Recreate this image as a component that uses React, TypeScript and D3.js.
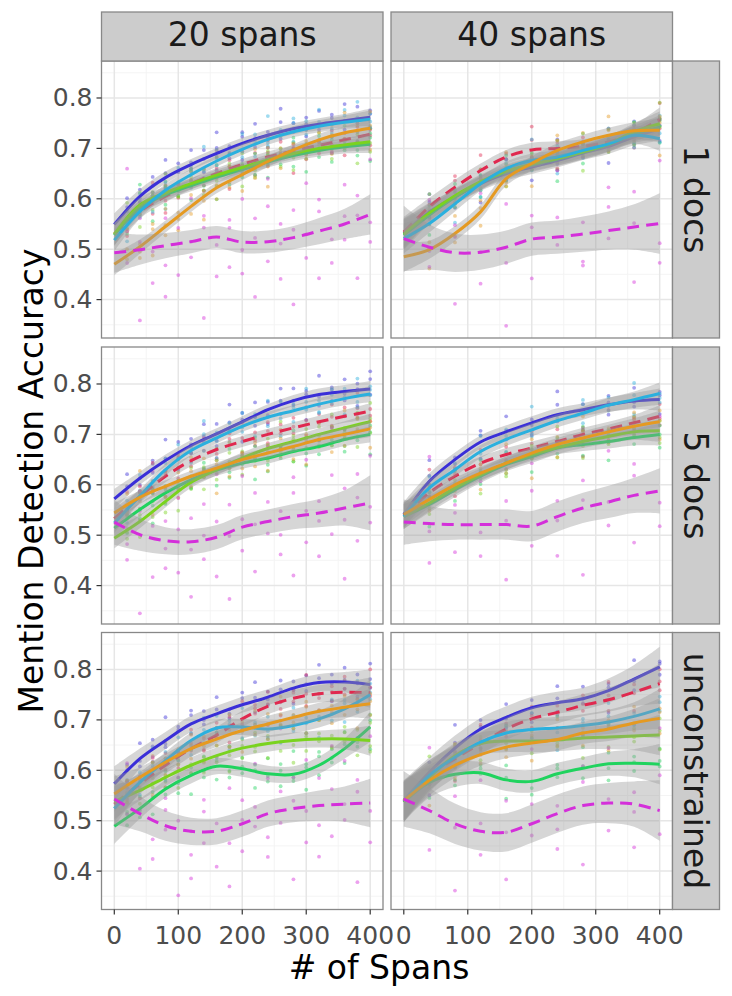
import React from 'react';
import * as d3 from 'd3';

// ---------------- data ----------------
const X_KNOTS = [0, 40, 80, 120, 160, 200, 240, 280, 320, 360, 400];
const COL_LABELS = ['20 spans', '40 spans'];
const ROW_LABELS = ['1 docs', '5 docs', 'unconstrained'];
const POINT_STEP = [20, 40];
const X_TICKS = [0, 100, 200, 300, 400];
const X_MINOR = [50, 150, 250, 350];
const Y_TICKS = [0.4, 0.5, 0.6, 0.7, 0.8];
const Y_MINOR = [0.35, 0.45, 0.55, 0.65, 0.75, 0.85];

const SERIES_KEYS = ['blue', 'red', 'green', 'lime', 'cyan', 'orange', 'magenta'];
const SERIES_COLORS = ['#3a2fd8', '#e0294f', '#20d35e', '#7ad31f', '#2bb0de', '#e59a22', '#d42fda'];
const SERIES_DASHED = [false, true, false, false, false, false, true];

// Panel A: 20 spans / 1 docs
const A_BLUE = [0.549, 0.605, 0.642, 0.668, 0.690, 0.710, 0.726, 0.739, 0.748, 0.755, 0.762];
const A_CYAN = [0.518, 0.575, 0.617, 0.648, 0.675, 0.698, 0.718, 0.733, 0.744, 0.752, 0.758];
const A_RED = [0.530, 0.575, 0.605, 0.630, 0.650, 0.668, 0.683, 0.695, 0.706, 0.717, 0.728];
const A_ORANGE = [0.470, 0.505, 0.545, 0.585, 0.622, 0.648, 0.674, 0.697, 0.717, 0.731, 0.740];
const A_LIME = [0.530, 0.588, 0.612, 0.630, 0.647, 0.662, 0.677, 0.690, 0.700, 0.707, 0.713];
const A_GREEN = [0.528, 0.582, 0.608, 0.626, 0.643, 0.658, 0.673, 0.686, 0.696, 0.703, 0.708];
const A_MAGENTA = [0.493, 0.499, 0.507, 0.515, 0.524, 0.514, 0.515, 0.523, 0.536, 0.550, 0.569];
const A_BAND = [0.022, 0.014, 0.012, 0.011, 0.011, 0.011, 0.011, 0.011, 0.012, 0.013, 0.017];
const A_BAND_M = [0.040, 0.030, 0.025, 0.023, 0.022, 0.022, 0.022, 0.023, 0.026, 0.030, 0.040];

// Panel B: 40 spans / 1 docs
const B_BLUE = [0.531, 0.574, 0.604, 0.630, 0.650, 0.663, 0.676, 0.691, 0.704, 0.723, 0.739];
const B_CYAN = [0.521, 0.551, 0.590, 0.630, 0.660, 0.676, 0.683, 0.696, 0.709, 0.726, 0.719];
const B_RED = [0.534, 0.584, 0.623, 0.656, 0.683, 0.697, 0.700, 0.704, 0.713, 0.730, 0.757];
const B_ORANGE = [0.485, 0.499, 0.531, 0.574, 0.640, 0.670, 0.696, 0.713, 0.726, 0.735, 0.736];
const B_LIME = [0.530, 0.572, 0.606, 0.634, 0.655, 0.669, 0.680, 0.693, 0.709, 0.733, 0.749];
const B_GREEN = [0.528, 0.568, 0.603, 0.632, 0.653, 0.667, 0.679, 0.692, 0.708, 0.728, 0.742];
const B_MAGENTA = [0.521, 0.504, 0.493, 0.494, 0.504, 0.520, 0.524, 0.530, 0.537, 0.544, 0.551];
const B_BAND = [0.030, 0.018, 0.015, 0.014, 0.014, 0.014, 0.014, 0.014, 0.015, 0.017, 0.024];
const B_BAND_M = [0.065, 0.045, 0.038, 0.035, 0.033, 0.033, 0.033, 0.035, 0.038, 0.045, 0.060];

// Panel C: 20 spans / 5 docs
const C_BLUE = [0.572, 0.613, 0.648, 0.678, 0.701, 0.725, 0.749, 0.767, 0.779, 0.785, 0.790];
const C_CYAN = [0.524, 0.578, 0.630, 0.668, 0.693, 0.716, 0.734, 0.747, 0.760, 0.771, 0.780];
const C_RED = [0.533, 0.577, 0.617, 0.648, 0.670, 0.686, 0.700, 0.713, 0.725, 0.736, 0.746];
const C_ORANGE = [0.544, 0.575, 0.597, 0.617, 0.633, 0.650, 0.663, 0.676, 0.690, 0.700, 0.711];
const C_LIME = [0.494, 0.527, 0.567, 0.605, 0.630, 0.653, 0.672, 0.686, 0.700, 0.713, 0.725];
const C_GREEN = [0.514, 0.551, 0.584, 0.610, 0.629, 0.643, 0.653, 0.666, 0.676, 0.690, 0.700];
const C_MAGENTA = [0.526, 0.501, 0.489, 0.487, 0.496, 0.516, 0.527, 0.537, 0.544, 0.554, 0.564];
const C_BAND = [0.020, 0.013, 0.012, 0.011, 0.011, 0.011, 0.011, 0.011, 0.012, 0.013, 0.016];
const C_BAND_M = [0.045, 0.032, 0.027, 0.025, 0.024, 0.024, 0.024, 0.025, 0.028, 0.035, 0.055];

// Panel D: 40 spans / 5 docs
const D_BLUE = [0.541, 0.607, 0.650, 0.685, 0.705, 0.723, 0.739, 0.749, 0.759, 0.766, 0.769];
const D_CYAN = [0.537, 0.594, 0.630, 0.666, 0.690, 0.709, 0.727, 0.742, 0.758, 0.769, 0.781];
const D_RED = [0.539, 0.584, 0.617, 0.643, 0.660, 0.673, 0.686, 0.700, 0.711, 0.723, 0.736];
const D_ORANGE = [0.541, 0.571, 0.600, 0.623, 0.643, 0.663, 0.680, 0.693, 0.705, 0.716, 0.725];
const D_LIME = [0.537, 0.564, 0.594, 0.620, 0.643, 0.660, 0.674, 0.686, 0.696, 0.705, 0.707];
const D_GREEN = [0.537, 0.561, 0.590, 0.617, 0.640, 0.656, 0.673, 0.680, 0.686, 0.694, 0.700];
const D_MAGENTA = [0.526, 0.523, 0.521, 0.521, 0.521, 0.518, 0.537, 0.554, 0.566, 0.579, 0.588];
const D_BAND = [0.025, 0.016, 0.014, 0.013, 0.013, 0.013, 0.013, 0.013, 0.014, 0.016, 0.022];
const D_BAND_M = [0.045, 0.035, 0.030, 0.030, 0.030, 0.030, 0.030, 0.030, 0.032, 0.035, 0.045];

// Panel E: 20 spans / unconstrained
const E_BLUE = [0.573, 0.623, 0.659, 0.692, 0.712, 0.730, 0.745, 0.763, 0.774, 0.775, 0.770];
const E_CYAN = [0.524, 0.576, 0.619, 0.659, 0.684, 0.686, 0.682, 0.689, 0.702, 0.722, 0.750];
const E_RED = [0.533, 0.573, 0.610, 0.643, 0.670, 0.702, 0.727, 0.743, 0.752, 0.755, 0.754];
const E_ORANGE = [0.553, 0.586, 0.616, 0.643, 0.662, 0.679, 0.692, 0.705, 0.717, 0.725, 0.732];
const E_LIME = [0.538, 0.560, 0.586, 0.610, 0.629, 0.644, 0.653, 0.659, 0.662, 0.662, 0.659];
const E_GREEN = [0.489, 0.524, 0.563, 0.590, 0.608, 0.603, 0.593, 0.592, 0.610, 0.643, 0.686];
const E_MAGENTA = [0.543, 0.514, 0.490, 0.479, 0.479, 0.494, 0.514, 0.524, 0.530, 0.533, 0.535];
const E_BAND = [0.035, 0.020, 0.017, 0.016, 0.016, 0.016, 0.016, 0.016, 0.017, 0.020, 0.030];
const E_BAND_M = [0.050, 0.035, 0.030, 0.027, 0.026, 0.026, 0.026, 0.027, 0.030, 0.035, 0.048];

// Panel F: 40 spans / unconstrained
const F_BLUE = [0.540, 0.596, 0.644, 0.682, 0.705, 0.724, 0.734, 0.742, 0.758, 0.781, 0.805];
const F_CYAN = [0.538, 0.590, 0.626, 0.656, 0.674, 0.681, 0.684, 0.689, 0.696, 0.707, 0.722];
const F_RED = [0.537, 0.590, 0.623, 0.653, 0.682, 0.702, 0.715, 0.729, 0.740, 0.755, 0.772];
const F_ORANGE = [0.540, 0.580, 0.610, 0.631, 0.646, 0.654, 0.661, 0.674, 0.682, 0.694, 0.703];
const F_LIME = [0.537, 0.586, 0.629, 0.653, 0.658, 0.658, 0.660, 0.664, 0.666, 0.668, 0.670];
const F_GREEN = [0.537, 0.576, 0.592, 0.595, 0.581, 0.578, 0.593, 0.604, 0.613, 0.614, 0.612];
const F_MAGENTA = [0.543, 0.520, 0.494, 0.479, 0.477, 0.494, 0.514, 0.530, 0.535, 0.533, 0.520];
const F_BAND = [0.040, 0.030, 0.025, 0.022, 0.022, 0.022, 0.022, 0.022, 0.024, 0.028, 0.040];
const F_BAND_M = [0.055, 0.045, 0.040, 0.038, 0.038, 0.038, 0.038, 0.038, 0.040, 0.045, 0.060];

// hand-typed residual pattern for the scatter of individual runs (in units of spread)
const RESIDUALS = [0.3, -0.8, 1.1, -0.2, 0.6, -1.4, 0.1, 0.9, -0.5, 1.6, -1.0, 0.4, -0.1, 0.7, -1.7, 0.2,
  1.3, -0.6, 0.0, -1.2, 0.8, 0.5, -0.3, 1.9, -0.9, 0.2, -0.4, 1.0, -1.5, 0.6, 0.1, -0.7, 1.4, -0.2, 0.3,
  -1.1, 0.9, -0.6, 2.1, -0.3, 0.5, -1.8, 0.2, 0.8, -0.9, 1.2, -0.1, -0.5, 0.7, -1.3, 0.4, 1.5, -0.8, 0.0,
  -0.4, 1.1, -2.0, 0.6, 0.3, -1.0, 1.7, -0.2, 0.5, -0.7];
const SPREAD = [0.022, 0.022, 0.022, 0.022, 0.022, 0.025, 0.078];
const RUNS_PER_X = 3;

// order of series in each lines list: blue, red, green, lime, cyan, orange, magenta
const PANELS = [
  { row: 0, col: 0, lines: [A_BLUE, A_RED, A_GREEN, A_LIME, A_CYAN, A_ORANGE, A_MAGENTA], band: A_BAND, bandM: A_BAND_M },
  { row: 0, col: 1, lines: [B_BLUE, B_RED, B_GREEN, B_LIME, B_CYAN, B_ORANGE, B_MAGENTA], band: B_BAND, bandM: B_BAND_M },
  { row: 1, col: 0, lines: [C_BLUE, C_RED, C_GREEN, C_LIME, C_CYAN, C_ORANGE, C_MAGENTA], band: C_BAND, bandM: C_BAND_M },
  { row: 1, col: 1, lines: [D_BLUE, D_RED, D_GREEN, D_LIME, D_CYAN, D_ORANGE, D_MAGENTA], band: D_BAND, bandM: D_BAND_M },
  { row: 2, col: 0, lines: [E_BLUE, E_RED, E_GREEN, E_LIME, E_CYAN, E_ORANGE, E_MAGENTA], band: E_BAND, bandM: E_BAND_M },
  { row: 2, col: 1, lines: [F_BLUE, F_RED, F_GREEN, F_LIME, F_CYAN, F_ORANGE, F_MAGENTA], band: F_BAND, bandM: F_BAND_M },
];

// ---------------- layout ----------------
const W = 732;
const H = 996;
const PANEL_X = [101.5, 391];
const PANEL_Y = [61, 347, 632.5];
const PW = 281.5;
const PH = 277;
const STRIP_TOP = 12;
const STRIP_RIGHT_W = 47;
const FONT = 'DejaVu Sans, Verdana, sans-serif';

function Panel({ p, idx }: { p: typeof PANELS[number]; idx: number }) {
  const x0 = PANEL_X[p.col];
  const y0 = PANEL_Y[p.row];
  const xs = d3.scaleLinear().domain([-20, 420]).range([x0, x0 + PW]);
  const ys = d3.scaleLinear().domain([0.3238, 0.8734]).range([y0 + PH, y0]);
  const clipId = `clip-${idx}`;
  const curve = d3.curveCatmullRom.alpha(0.5);

  const lineGen = d3.line<number>().x((_, i) => xs(X_KNOTS[i])).y((d) => ys(d)).curve(curve);

  const step = POINT_STEP[p.col];
  const pointXs = d3.range(step, 401, step);
  const points: { x: number; y: number; s: number; key: string }[] = [];
  p.lines.forEach((vals, s) => {
    const interp = d3.scaleLinear().domain(X_KNOTS).range(vals);
    pointXs.forEach((xv, i) => {
      for (let k = 0; k < RUNS_PER_X; k++) {
        const r = RESIDUALS[(i * RUNS_PER_X + k + s * 17 + idx * 7) % RESIDUALS.length];
        points.push({ x: xv, y: interp(xv) + r * SPREAD[s], s, key: `${s}-${xv}-${k}` });
      }
    });
  });

  return (
    <g>
      <defs>
        <clipPath id={clipId}>
          <rect x={x0} y={y0} width={PW} height={PH} />
        </clipPath>
      </defs>
      <rect x={x0} y={y0} width={PW} height={PH} fill="#ffffff" />
      {/* minor grid */}
      {X_MINOR.map((v) => (
        <line key={`xm${v}`} x1={xs(v)} x2={xs(v)} y1={y0} y2={y0 + PH} stroke="#f3f3f3" strokeWidth={0.9} />
      ))}
      {Y_MINOR.map((v) => (
        <line key={`ym${v}`} x1={x0} x2={x0 + PW} y1={ys(v)} y2={ys(v)} stroke="#f3f3f3" strokeWidth={0.9} />
      ))}
      {/* major grid */}
      {X_TICKS.map((v) => (
        <line key={`xM${v}`} x1={xs(v)} x2={xs(v)} y1={y0} y2={y0 + PH} stroke="#e6e6e6" strokeWidth={1.5} />
      ))}
      {Y_TICKS.map((v) => (
        <line key={`yM${v}`} x1={x0} x2={x0 + PW} y1={ys(v)} y2={ys(v)} stroke="#e6e6e6" strokeWidth={1.5} />
      ))}
      <g clipPath={`url(#${clipId})`}>
        {points.map((pt) => (
          <circle key={pt.key} cx={xs(pt.x)} cy={ys(pt.y)} r={1.9} fill={SERIES_COLORS[pt.s]} fillOpacity={0.45} />
        ))}
        {p.lines.map((vals, s) => {
          const band = s === 6 ? p.bandM : p.band;
          const areaGen = d3
            .area<number>()
            .x((_, i) => xs(X_KNOTS[i]))
            .y0((d, i) => ys(d - band[i]))
            .y1((d, i) => ys(d + band[i]))
            .curve(curve);
          return (
            <g key={SERIES_KEYS[s]}>
              <path d={areaGen(vals) || ''} fill="#999999" fillOpacity={0.4} />
              <path
                d={lineGen(vals) || ''}
                fill="none"
                stroke={SERIES_COLORS[s]}
                strokeWidth={3}
                strokeDasharray={SERIES_DASHED[s] ? '12 7' : undefined}
              />
            </g>
          );
        })}
      </g>
      <rect x={x0} y={y0} width={PW} height={PH} fill="none" stroke="#888888" strokeWidth={1.3} />
      {/* y axis */}
      {p.col === 0 &&
        Y_TICKS.map((v) => (
          <g key={`yt${v}`}>
            <line x1={x0 - 5} x2={x0} y1={ys(v)} y2={ys(v)} stroke="#333333" strokeWidth={1.2} />
            <text x={x0 - 9} y={ys(v)} textAnchor="end" dominantBaseline="central" fontSize={25} fill="#4d4d4d" fontFamily={FONT}>
              {v.toFixed(1)}
            </text>
          </g>
        ))}
      {/* x axis */}
      {p.row === 2 &&
        X_TICKS.map((v) => (
          <g key={`xt${v}`}>
            <line x1={xs(v)} x2={xs(v)} y1={y0 + PH} y2={y0 + PH + 5} stroke="#333333" strokeWidth={1.2} />
            <text x={xs(v)} y={944} textAnchor="middle" fontSize={25} fill="#4d4d4d" fontFamily={FONT}>
              {String(v)}
            </text>
          </g>
        ))}
    </g>
  );
}

export default function App() {
  return (
    <svg width={W} height={H} style={{ position: 'absolute', left: 0, top: 0, background: '#ffffff' }} fontFamily={FONT}>
      <rect x={0} y={0} width={W} height={H} fill="#ffffff" />
      {PANELS.map((p, i) => (
        <Panel key={i} p={p} idx={i} />
      ))}
      {/* top strips */}
      {COL_LABELS.map((lab, c) => (
        <g key={lab}>
          <rect x={PANEL_X[c]} y={STRIP_TOP} width={PW} height={PANEL_Y[0] - STRIP_TOP} fill="#cccccc" stroke="#888888" strokeWidth={1.3} />
          <text x={PANEL_X[c] + PW / 2} y={46} textAnchor="middle" fontSize={33} fill="#1a1a1a" fontFamily={FONT}>
            {lab}
          </text>
        </g>
      ))}
      {/* right strips */}
      {ROW_LABELS.map((lab, r) => {
        const sx = PANEL_X[1] + PW;
        const cy = PANEL_Y[r] + PH / 2;
        return (
          <g key={lab}>
            <rect x={sx} y={PANEL_Y[r]} width={STRIP_RIGHT_W} height={PH} fill="#cccccc" stroke="#888888" strokeWidth={1.3} />
            <text
              transform={`translate(${sx + STRIP_RIGHT_W / 2 - 12}, ${cy}) rotate(90)`}
              textAnchor="middle"
              fontSize={33}
              fill="#1a1a1a"
              fontFamily={FONT}
            >
              {lab}
            </text>
          </g>
        );
      })}
      {/* axis titles */}
      <text x={379} y={979} textAnchor="middle" fontSize={33} fill="#000000" fontFamily={FONT}>
        # of Spans
      </text>
      <text transform="translate(43, 481) rotate(-90)" textAnchor="middle" fontSize={33} fill="#000000" fontFamily={FONT}>
        Mention Detection Accuracy
      </text>
    </svg>
  );
}
